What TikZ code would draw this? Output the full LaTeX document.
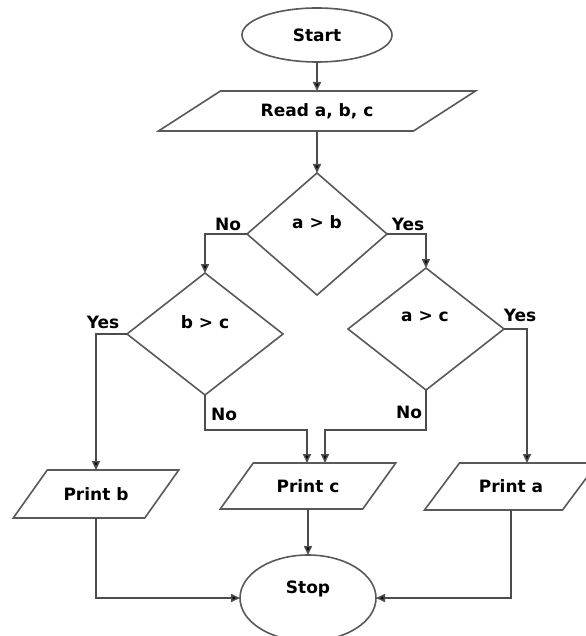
\documentclass[tikz,border=0pt]{standalone}
\usepackage{fontspec}
\setmainfont{DejaVu Sans}
\usetikzlibrary{shapes.geometric,arrows.meta}
% outline of a slanted input/output box around a rectangular node
\newcommand\ioframe[2]{%
  \draw[shapeline] ([xshift=#2]#1.north west) -- ([xshift=#2]#1.north east)
    -- ([xshift=-#2]#1.south east) -- ([xshift=-#2]#1.south west) -- cycle;}
\begin{document}
\begin{tikzpicture}[x=1bp,y=-1bp,
  every node/.style={font=\bfseries\fontsize{17bp}{20bp}\selectfont, text=black, inner sep=0pt, outer sep=0pt},
  shapeline/.style={draw=black!65, line width=1.6bp},
  terminal/.style={ellipse, shapeline},
  decision/.style={diamond, shapeline},
  io/.style={rectangle},
  flow/.style={draw=black!70, line width=1.6bp, -{Triangle[length=9bp,width=8bp,fill=black]}},
  tag/.style={}
]
\path[use as bounding box, fill=white] (0,0) rectangle (586,636);

% terminals
\node[terminal, minimum width=150bp, minimum height=54bp] (start) at (317,35) {Start};
\node[terminal, minimum width=136bp, minimum height=86bp] (stop) at (308,598) {};
\node (stopt) at (308,589) {Stop};

% input / output
\node[io, minimum width=255bp, minimum height=40bp] (read) at (317,111) {Read a, b, c};
\node[io, minimum width=131.5bp, minimum height=48bp] (pb) at (96,494) {Print b};
\node[io, minimum width=142.5bp, minimum height=46bp] (pc) at (308,486) {Print c};
\node[io, minimum width=138bp, minimum height=47bp] (pa) at (511,486.5) {Print a};
\ioframe{read}{31bp}
\ioframe{pb}{17bp}
\ioframe{pc}{16.5bp}
\ioframe{pa}{17.5bp}

% decisions
\node[decision, minimum width=140bp, minimum height=122bp] (ab) at (317,234) {};
\node (abt) at (317,222) {a > b};
\node[decision, minimum width=156bp, minimum height=122bp] (bc) at (205,334) {};
\node (bct) at (205,322) {b > c};
\node[decision, minimum width=156bp, minimum height=122bp] (ac) at (426,329) {};
\node (act) at (425,317) {a > c};

% branch labels
\node[tag] (abno) at (228,224) {No};
\node[tag] (abyes) at (408,224) {Yes};
\node[tag] (bcyes) at (103,322) {Yes};
\node[tag] (bcno) at (224,414) {No};
\node[tag] (acyes) at (520,315) {Yes};
\node[tag] (acno) at (409,412) {No};

% joins above Print c
\coordinate (jl) at (307,430);
\coordinate (jr) at (325,430);

% connectors
\draw[flow] (start) -- (read);
\draw[flow] (read) -- (ab);
\draw[flow] (ab.west) -| (bc.north);
\draw[flow] (ab.east) -| (ac.north);
\draw[flow] (bc.west) -| (pb.north);
\draw[flow] (ac.east) -| ([xshift=16bp]pa.north);
\draw[flow] (bc.south) |- (jl) -- (jl |- pc.north);
\draw[flow] (ac.south) |- (jr) -- (jr |- pc.north);
\draw[flow] (pc) -- (stop);
\draw[flow] (pb.south) |- (stop.west);
\draw[flow] (pa.south) |- (stop.east);
\end{tikzpicture}
\end{document}
